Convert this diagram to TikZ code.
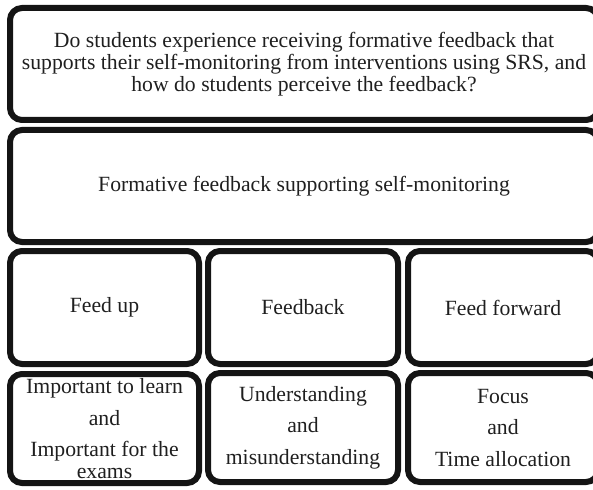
\documentclass[tikz,border=0pt]{standalone}
\usepackage{fontspec}
\setmainfont{Liberation Serif}
\begin{document}
\begin{tikzpicture}[x=1pt,y=-1pt,
  box/.style={draw=black!92, line width=6pt, rounded corners=12pt, align=center,
    text=black!88, font=\fontsize{21.7}{21.7}\selectfont, inner sep=0pt, outer sep=0pt},
  tallbox/.style={box, font=\fontsize{21.7}{31.5}\selectfont}]
\useasboundingbox (0,0) rectangle (593,489);
\clip (0,0) rectangle (593,489);
\node[box, minimum width=588pt, minimum height=112pt] (q) at (304,64)
  {Do students experience receiving formative feedback that\\
   supports their self-monitoring from interventions using SRS, and\\
   how do students perceive the feedback?};
\node[box, minimum width=588pt, minimum height=112pt] (ff) at (304,186)
  {Formative feedback supporting self-monitoring};
\node[box, minimum width=189pt, minimum height=113pt] (up) at (104.5,307.5) {Feed up};
\node[box, minimum width=190pt, minimum height=113pt] (fb) at (303,307.5) {Feedback};
\node[box, minimum width=190pt, minimum height=113pt] (fw) at (503,307.5) {Feed forward};
\node[tallbox, minimum width=189pt, minimum height=109pt] (upd) at (104.5,428.5)
  {Important to learn\\ and\\ Important for the\\[-10pt] exams};
\node[tallbox, minimum width=190pt, minimum height=109pt] (fbd) at (303,427.5)
  {Understanding\\ and\\ misunderstanding};
\node[tallbox, minimum width=190pt, minimum height=109pt] (fwd) at (503,427.5)
  {Focus\\ and\\ Time allocation};
\end{tikzpicture}
\end{document}
